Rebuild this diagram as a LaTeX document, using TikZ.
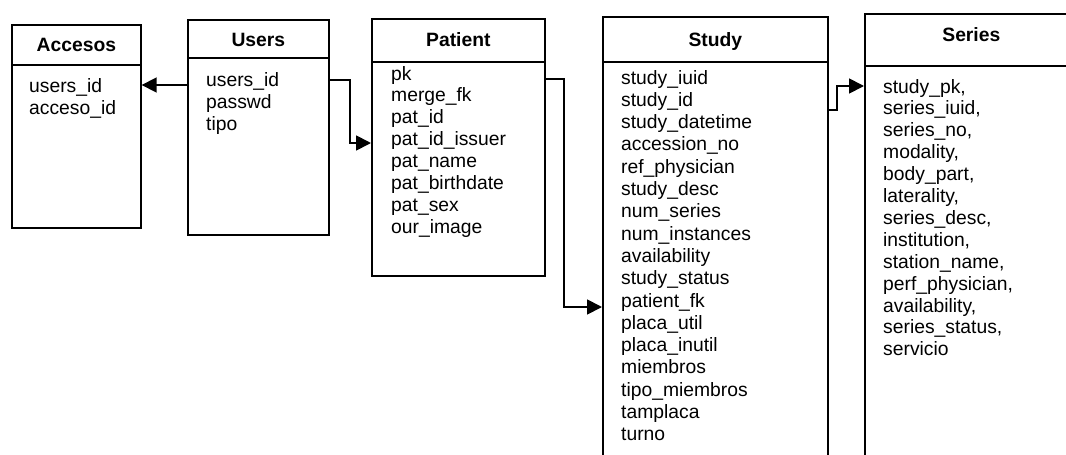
\documentclass[tikz,border=0pt]{standalone}
\usepackage{fontspec}
\setmainfont{Liberation Sans}
\usetikzlibrary{arrows.meta}
\tikzset{
  tbl/.style={draw=black, line width=1.7pt, rectangle, anchor=north west, inner sep=0pt},
  hdrline/.style={draw=black, line width=1.7pt},
  hdr/.style={font=\fontsize{19.3}{22}\selectfont\bfseries, anchor=base, inner sep=0pt},
  field/.style={font=\fontsize{19.3}{22}\selectfont, anchor=base west, inner sep=0pt},
  link/.style={draw=black, line width=1.8pt, -{Triangle[length=15pt,width=15pt]}}
}
\begin{document}
\begin{tikzpicture}[x=1pt,y=-1pt]
\useasboundingbox (0,0) rectangle (1066,455);
\clip (0,0) rectangle (1066,455);
\fill[white] (0,0) rectangle (1066,455);

% table frames
\node[tbl, minimum width=129pt, minimum height=203pt] (accesos) at (11,24) {};
\node[tbl, minimum width=141pt, minimum height=215pt] (users) at (187,19) {};
\node[tbl, minimum width=173pt, minimum height=257pt] (patient) at (371,18) {};
\node[tbl, minimum width=225pt, minimum height=460pt] (study) at (602,16) {};
\node[tbl, minimum width=213pt, minimum height=460pt] (series) at (864,13) {};

% header separators
\draw[hdrline] (accesos.west |- 0,65) -- (accesos.east |- 0,65);
\draw[hdrline] (users.west |- 0,58) -- (users.east |- 0,58);
\draw[hdrline] (patient.west |- 0,62) -- (patient.east |- 0,62);
\draw[hdrline] (study.west |- 0,62) -- (study.east |- 0,62);
\draw[hdrline] (series.west |- 0,66) -- (series.east |- 0,66);

% table titles
\node[hdr] (accesos-t) at (accesos.center |- 0,51.5) {Accesos};
\node[hdr] (users-t) at (users.center |- 0,46) {Users};
\node[hdr] (patient-t) at (patient.center |- 0,46.5) {Patient};
\node[hdr] (study-t) at (study.center |- 0,46) {Study};
\node[hdr] (series-t) at (series.center |- 0,41.5) {Series};

% columns
\foreach \t [count=\i] in {users\_id, acceso\_id}
  \node[field] (acc-\i) at (29, 92.5+21.8*\i-21.8) {\t};
\foreach \t [count=\i] in {users\_id, passwd, tipo}
  \node[field] (usr-\i) at (206, 86.5+21.8*\i-21.8) {\t};
\foreach \t [count=\i] in {pk, merge\_fk, pat\_id, pat\_id\_issuer, pat\_name,
    pat\_birthdate, pat\_sex, our\_image}
  \node[field] (pat-\i) at (391, 80+21.9*\i-21.9) {\t};
\foreach \t [count=\i] in {study\_iuid, study\_id, study\_datetime, accession\_no,
    ref\_physician, study\_desc, num\_series, num\_instances, availability,
    study\_status, patient\_fk, placa\_util, placa\_inutil, miembros,
    tipo\_miembros, tamplaca, turno}
  \node[field] (stu-\i) at (621, 84+22.3*\i-22.3) {\t};
\foreach \t [count=\i] in {{study\_pk,}, {series\_iuid,}, {series\_no,}, {modality,},
    {body\_part,}, {laterality,}, {series\_desc,}, {institution,},
    {station\_name,}, {perf\_physician,}, {availability,}, {series\_status,}, servicio}
  \node[field] (ser-\i) at (883, 93+21.9*\i-21.9) {\t};

% relations
\draw[link] (users.west |- 0,85) -- (accesos.east |- 0,85);
\draw[link] (users.east |- 0,80) -- (350,80) -- (350,143) -- (patient.west |- 0,143);
\draw[link] (patient.east |- 0,79) -- (564,79) -- (564,307) -- (study.west |- 0,307);
\draw[link] (study.east |- 0,110) -- (837,110) -- (837,86) -- (series.west |- 0,86);
\end{tikzpicture}
\end{document}
